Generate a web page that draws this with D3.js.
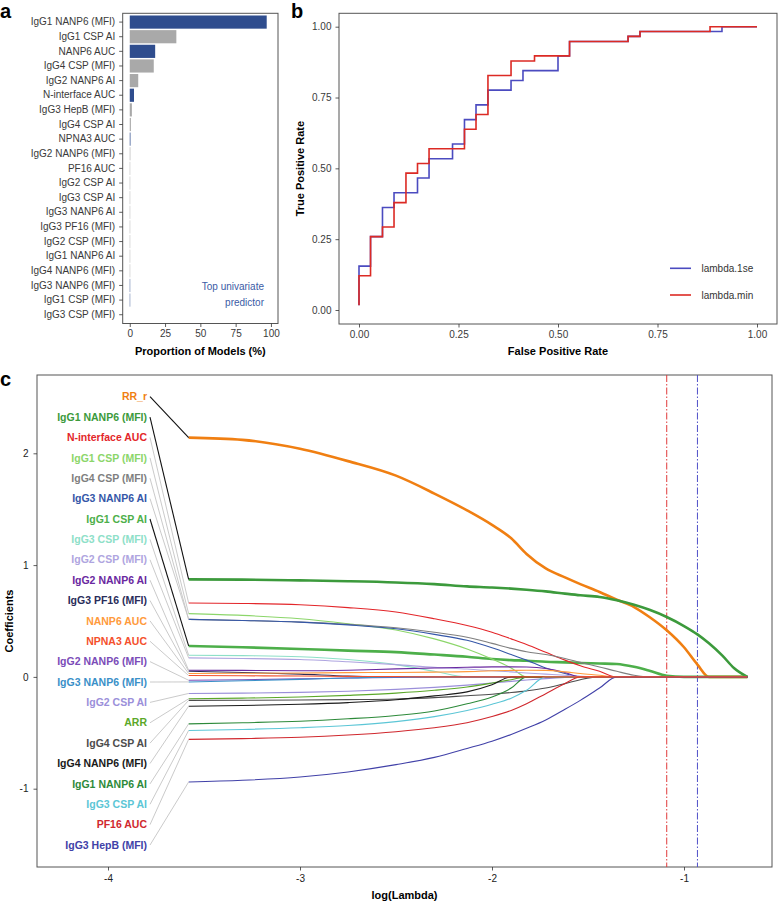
<!DOCTYPE html>
<html><head><meta charset="utf-8">
<script src="https://cdn.jsdelivr.net/npm/d3@7"></script>
<style>
body{margin:0;background:#fff}
svg text{font-family:"Liberation Sans",Arial,sans-serif}
</style></head>
<body><svg id="chart" width="778" height="902"></svg>
<script>
// ---------- Panel a data ----------
const predictors = ["IgG1 NANP6 (MFI)","IgG1 CSP AI","NANP6 AUC","IgG4 CSP (MFI)","IgG2 NANP6 AI","N-interface AUC","IgG3 HepB (MFI)","IgG4 CSP AI","NPNA3 AUC","IgG2 NANP6 (MFI)","PF16 AUC","IgG2 CSP AI","IgG3 CSP AI","IgG3 NANP6 AI","IgG3 PF16 (MFI)","IgG2 CSP (MFI)","IgG1 NANP6 AI","IgG4 NANP6 (MFI)","IgG3 NANP6 (MFI)","IgG1 CSP (MFI)","IgG3 CSP (MFI)"];
const proportions = [97,33,18,17,6,3,1.5,0.8,0.5,0.4,0.3,0.3,0.3,0.3,0.3,0.3,0.3,0.3,0.3,0.3,0];
const topUnivariate = ["IgG1 NANP6 (MFI)","NANP6 AUC","N-interface AUC","NPNA3 AUC","IgG3 NANP6 (MFI)","IgG1 CSP (MFI)"];
const propTicks = [0,25,50,75,100];

// ---------- Panel b data (ROC step vertices) ----------
const fprMin = [0,0,0.029,0.059,0.088,0.118,0.147,0.176,0.265,0.294,0.324,0.382,0.441,0.529,0.676,0.706,0.882,1];
const tprMin = [0.017,0.121,0.259,0.293,0.379,0.483,0.517,0.569,0.638,0.690,0.828,0.879,0.897,0.948,0.966,0.983,1,1];
const fpr1se = [0,0,0.029,0.059,0.088,0.147,0.176,0.235,0.265,0.294,0.324,0.382,0.412,0.5,0.529,0.676,0.706,0.912,1];
const tpr1se = [0.017,0.155,0.259,0.362,0.414,0.466,0.534,0.586,0.672,0.724,0.776,0.810,0.845,0.897,0.948,0.966,0.983,1,1];
const rocTicks = [0,0.25,0.5,0.75,1];

// ---------- Panel c data ----------
const logLambdaGrid = [-3.58,-3.3,-3.0,-2.75,-2.5,-2.3,-2.13,-2.0,-1.9,-1.82,-1.72,-1.62,-1.54,-1.44,-1.35,-1.26,-1.18,-1.09,-1.0,-0.93,-0.87,-0.8,-0.74,-0.67];
const coefNames = ["RR_r","IgG1 NANP6 (MFI)","N-interface AUC","IgG1 CSP (MFI)","IgG4 CSP (MFI)","IgG3 NANP6 AI","IgG1 CSP AI","IgG3 CSP (MFI)","IgG2 CSP (MFI)","IgG2 NANP6 AI","IgG3 PF16 (MFI)","NANP6 AUC","NPNA3 AUC","IgG2 NANP6 (MFI)","IgG3 NANP6 (MFI)","IgG2 CSP AI","ARR","IgG4 CSP AI","IgG4 NANP6 (MFI)","IgG1 NANP6 AI","IgG3 CSP AI","PF16 AUC","IgG3 HepB (MFI)"];
const coefColors = ["#F07F12","#3C9A3C","#E3262A","#8CD66A","#7F7F7F","#3557A8","#4DAF4A","#8EE0C8","#AFA5E0","#6A28A0","#2A2D5A","#FF9A3C","#F4502C","#7B4CB8","#3A90C8","#9B8FDA","#5BA829","#4D4D4D","#1A1A1A","#2D8A3A","#5CC6D6","#D0282E","#4141A8"];
const thickNames = ["RR_r","IgG1 NANP6 (MFI)","IgG1 CSP AI"];
const coefValues = [
 [2.14,2.12,2.04,1.93,1.80,1.64,1.49,1.36,1.24,1.10,0.97,0.89,0.83,0.76,0.69,0.625,0.536,0.417,0.265,0.11,0,0,0,0],
 [0.872,0.870,0.863,0.856,0.845,0.83,0.81,0.80,0.79,0.78,0.765,0.745,0.73,0.715,0.685,0.645,0.60,0.536,0.455,0.38,0.30,0.19,0.08,0],
 [0.661,0.657,0.645,0.62,0.58,0.52,0.46,0.40,0.34,0.29,0.22,0.15,0.10,0.05,0,0,0,0,0,0,0,0,0,0],
 [0.566,0.55,0.52,0.475,0.42,0.34,0.25,0.16,0.08,0,0,0,0,0,0,0,0,0,0,0,0,0,0,0],
 [0.515,0.505,0.49,0.47,0.44,0.40,0.355,0.30,0.255,0.225,0.20,0.165,0.13,0.089,0.05,0.015,0,0,0,0,0,0,0,0],
 [0.515,0.505,0.49,0.465,0.43,0.38,0.327,0.26,0.20,0.15,0.08,0.03,0,0,0,0,0,0,0,0,0,0,0,0],
 [0.277,0.265,0.25,0.235,0.222,0.20,0.18,0.16,0.15,0.145,0.135,0.13,0.125,0.12,0.115,0.09,0.055,0.01,0,0,0,0,0,0],
 [0.194,0.19,0.18,0.155,0.11,0.05,0,0,0,0,0,0,0,0,0,0,0,0,0,0,0,0,0,0],
 [0.17,0.165,0.155,0.135,0.11,0.085,0.07,0.055,0.045,0.035,0.025,0.015,0.006,0,0,0,0,0,0,0,0,0,0,0],
 [0.06,0.058,0.055,0.06,0.072,0.08,0.086,0.09,0.09,0.088,0.075,0.04,0,0,0,0,0,0,0,0,0,0,0,0],
 [0.05,0.04,0.025,0.008,0,0,0,0,0,0,0,0,0,0,0,0,0,0,0,0,0,0,0,0],
 [0.03,0.032,0.035,0.038,0.04,0.043,0.047,0.055,0.058,0.06,0.058,0.045,0.03,0.015,0,0,0,0,0,0,0,0,0,0],
 [0.012,0.01,0.008,0.005,0.003,0,0,0,0,0,0,0,0,0,0,0,0,0,0,0,0,0,0,0],
 [-0.03,-0.025,-0.018,-0.01,-0.004,0,0,0,0,0,0,0,0,0,0,0,0,0,0,0,0,0,0,0],
 [-0.045,-0.035,-0.022,-0.01,0,0,0,0,0,0,0,0,0,0,0,0,0,0,0,0,0,0,0,0],
 [-0.148,-0.145,-0.138,-0.128,-0.112,-0.094,-0.074,-0.055,-0.04,-0.028,-0.015,-0.005,0,0,0,0,0,0,0,0,0,0,0,0],
 [-0.196,-0.19,-0.18,-0.165,-0.145,-0.12,-0.09,-0.055,-0.025,0,0,0,0,0,0,0,0,0,0,0,0,0,0,0],
 [-0.21,-0.209,-0.207,-0.203,-0.197,-0.185,-0.168,-0.155,-0.14,-0.125,-0.1,-0.06,-0.025,0,0,0,0,0,0,0,0,0,0,0],
 [-0.262,-0.256,-0.245,-0.23,-0.205,-0.17,-0.134,-0.07,0,0,0,0,0,0,0,0,0,0,0,0,0,0,0,0],
 [-0.42,-0.41,-0.397,-0.375,-0.345,-0.305,-0.24,-0.18,-0.1,0,0,0,0,0,0,0,0,0,0,0,0,0,0,0],
 [-0.479,-0.47,-0.455,-0.435,-0.4,-0.355,-0.3,-0.245,-0.19,-0.12,0,0,0,0,0,0,0,0,0,0,0,0,0,0],
 [-0.559,-0.552,-0.54,-0.52,-0.49,-0.455,-0.41,-0.355,-0.3,-0.24,-0.15,-0.06,0,0,0,0,0,0,0,0,0,0,0,0],
 [-0.94,-0.925,-0.895,-0.85,-0.785,-0.72,-0.64,-0.575,-0.515,-0.46,-0.385,-0.29,-0.21,-0.1,0,0,0,0,0,0,0,0,0,0]
];
const lambdaMin = -1.09, lambda1se = -0.93;
const coefYTicks = [-1,0,1,2];
const coefXTicks = [-4,-3,-2,-1];

// ---------- Drawing ----------
const svg = d3.select("#chart");
const FONT = 10;
const BORDER = "#555";

function styleAxis(g, color){
  g.select(".domain").remove();
  g.selectAll(".tick line").attr("stroke","#333").attr("stroke-width",0.8);
  g.selectAll(".tick text").attr("fill",color).style("font-size",FONT+"px");
}

// ===== Panel a =====
const aL=122.7,aR=278,aT=13.3,aB=323.5;
const ax = d3.scaleLinear().domain([-5,105]).range([aL,aR]);
const ay = d3.scaleBand().domain(predictors).range([aT,aB]).paddingInner(0.1).paddingOuter(0.15);
const gA = svg.append("g");
gA.selectAll("rect.bar").data(predictors).join("rect")
  .attr("x",ax(0)).attr("y",d=>ay(d))
  .attr("width",(d,i)=>Math.max(0,ax(proportions[i])-ax(0)))
  .attr("height",ay.bandwidth())
  .attr("fill",d=>topUnivariate.includes(d)?"#2F4D8E":"#A9A9A9");
gA.append("rect").attr("x",aL).attr("y",aT).attr("width",aR-aL).attr("height",aB-aT)
  .attr("fill","none").attr("stroke",BORDER).attr("stroke-width",1);
gA.append("g").attr("transform",`translate(${aL},0)`)
  .call(d3.axisLeft(ay).tickSize(3.5).tickPadding(4))
  .call(g=>styleAxis(g,"#3a3a3a"));
gA.append("g").attr("transform",`translate(0,${aB})`)
  .call(d3.axisBottom(ax).tickValues(propTicks).tickSize(3.5).tickPadding(3))
  .call(g=>styleAxis(g,"#3a3a3a"));
gA.append("text").attr("x",(aL+aR)/2).attr("y",355).attr("text-anchor","middle")
  .style("font-size","11px").style("font-weight","bold").text("Proportion of Models (%)");
const note = gA.append("text").attr("text-anchor","end").attr("fill","#3B5BA5").style("font-size",FONT+"px");
note.append("tspan").attr("x",264).attr("y",289.5).text("Top univariate");
note.append("tspan").attr("x",264).attr("y",305.5).text("predictor");
svg.append("text").attr("x",0).attr("y",18).style("font-size","20px").style("font-weight","bold").text("a");

// ===== Panel b =====
const bL=339,bR=777,bT=13.3,bB=324;
const bx = d3.scaleLinear().domain([0,1]).range([359,757]);
const by = d3.scaleLinear().domain([0,1]).range([310,26.7]);
const gB = svg.append("g");
gB.append("rect").attr("x",bL).attr("y",bT).attr("width",bR-bL).attr("height",bB-bT)
  .attr("fill","none").attr("stroke",BORDER).attr("stroke-width",1);
gB.append("g").attr("transform",`translate(${bL},0)`)
  .call(d3.axisLeft(by).tickValues(rocTicks).tickFormat(d3.format(".2f")).tickSize(3.5).tickPadding(4))
  .call(g=>styleAxis(g,"#3a3a3a"));
gB.append("g").attr("transform",`translate(0,${bB})`)
  .call(d3.axisBottom(bx).tickValues(rocTicks).tickFormat(d3.format(".2f")).tickSize(3.5).tickPadding(3))
  .call(g=>styleAxis(g,"#3a3a3a"));
const roc = d3.line().x(d=>bx(d[0])).y(d=>by(d[1])).curve(d3.curveStepAfter);
gB.append("path").attr("d",roc(fpr1se.map((f,i)=>[f,tpr1se[i]])))
  .attr("fill","none").attr("stroke","#4B4BC0").attr("stroke-width",1.6);
gB.append("path").attr("d",roc(fprMin.map((f,i)=>[f,tprMin[i]])))
  .attr("fill","none").attr("stroke","#DC2A24").attr("stroke-width",1.6);
const legendItems = [["lambda.1se","#4B4BC0",268.3],["lambda.min","#DC2A24",295]];
legendItems.forEach(([lab,col,yy])=>{
  gB.append("line").attr("x1",670).attr("x2",691).attr("y1",yy).attr("y2",yy).attr("stroke",col).attr("stroke-width",1.6);
  gB.append("text").attr("x",701.5).attr("y",yy).attr("dy","0.35em").attr("fill","#333").style("font-size",FONT+"px").text(lab);
});
gB.append("text").attr("transform",`translate(304,${(bT+bB)/2}) rotate(-90)`).attr("text-anchor","middle")
  .style("font-size","11px").style("font-weight","bold").text("True Positive Rate");
gB.append("text").attr("x",(bL+bR)/2).attr("y",355).attr("text-anchor","middle")
  .style("font-size","11px").style("font-weight","bold").text("False Positive Rate");
svg.append("text").attr("x",291).attr("y",18).style("font-size","20px").style("font-weight","bold").text("b");

// ===== Panel c =====
const cL=37,cR=772,cT=375,cB=867;
const cx = d3.scaleLinear().domain([-4,-1]).range([108,684]);
const cy = d3.scaleLinear().domain([-1,2]).range([788.7,453.3]);
const gC = svg.append("g");
gC.append("rect").attr("x",cL).attr("y",cT).attr("width",cR-cL).attr("height",cB-cT)
  .attr("fill","none").attr("stroke",BORDER).attr("stroke-width",1);
const plainInt = d=>String(d);
gC.append("g").attr("transform",`translate(${cL},0)`)
  .call(d3.axisLeft(cy).tickValues(coefYTicks).tickFormat(plainInt).tickSize(3.5).tickPadding(5))
  .call(g=>styleAxis(g,"#222"));
gC.append("g").attr("transform",`translate(0,${cB})`)
  .call(d3.axisBottom(cx).tickValues(coefXTicks).tickFormat(plainInt).tickSize(3.5).tickPadding(4))
  .call(g=>styleAxis(g,"#222"));
gC.append("text").attr("transform",`translate(13,${(cT+cB)/2}) rotate(-90)`).attr("text-anchor","middle")
  .style("font-size","11px").style("font-weight","bold").text("Coefficients");
gC.append("text").attr("x",(cL+cR)/2).attr("y",899).attr("text-anchor","middle")
  .style("font-size","11px").style("font-weight","bold").text("log(Lambda)");
svg.append("text").attr("x",0).attr("y",386).style("font-size","20px").style("font-weight","bold").text("c");

// reference lines
[[lambdaMin,"#E03A3A"],[lambda1se,"#4F4FC8"]].forEach(([v,col])=>{
  gC.append("line").attr("x1",cx(v)).attr("x2",cx(v)).attr("y1",cT).attr("y2",cB)
    .attr("stroke",col).attr("stroke-width",1).attr("stroke-dasharray","7,2,1.5,2");
});

const coefLine = d3.line().x((d,i)=>cx(logLambdaGrid[i])).y(d=>cy(d)).curve(d3.curveMonotoneX);
// thick paths first, then thin ones, with NPNA3 AUC last so the zero baseline looks salmon
const thickIdx = coefNames.map((n,i)=>i).filter(i=>thickNames.includes(coefNames[i]));
const thinIdx = coefNames.map((n,i)=>i).filter(i=>!thickNames.includes(coefNames[i]) && coefNames[i]!=="NPNA3 AUC");
const drawOrder = thickIdx.concat(thinIdx, [coefNames.indexOf("NPNA3 AUC")]);
drawOrder.forEach(i=>{
  const thick = thickNames.includes(coefNames[i]);
  gC.append("path").attr("d",coefLine(coefValues[i]))
    .attr("fill","none").attr("stroke",coefColors[i]).attr("stroke-width",thick?2.6:1.1);
});

// labels + connectors
const labelY0 = 396.7, labelStep = 20.38, labelX = 147, startX = cx(logLambdaGrid[0]);
coefNames.forEach((n,i)=>{
  const ly = labelY0 + i*labelStep;
  const thick = thickNames.includes(n);
  gC.append("line").attr("x1",labelX+3).attr("y1",ly).attr("x2",startX).attr("y2",cy(coefValues[i][0]))
    .attr("stroke",thick?"#111":"#C4C4C4").attr("stroke-width",thick?1.1:0.9);
  gC.append("text").attr("x",labelX).attr("y",ly).attr("dy","0.35em").attr("text-anchor","end")
    .attr("fill",coefColors[i]).style("font-size","10.5px").style("font-weight","bold").text(n);
});
</script>
</body></html>
